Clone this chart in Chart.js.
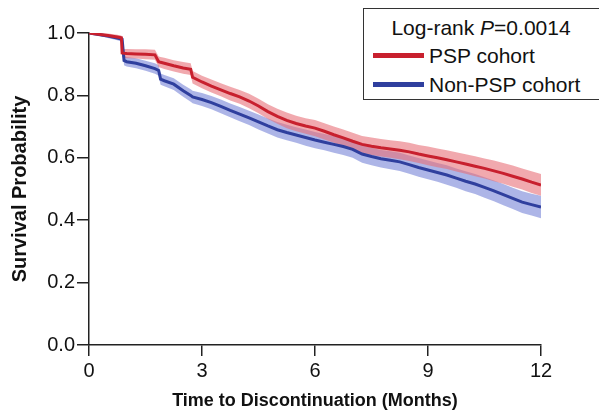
<!DOCTYPE html>
<html>
<head>
<meta charset="utf-8">
<script src="https://cdn.jsdelivr.net/npm/chart.js@4.4.1/dist/chart.umd.min.js"></script>
<style>
  html, body { margin: 0; padding: 0; background: #fff; overflow: hidden; }
  #wrap { position: relative; width: 599px; height: 417px; }
  canvas { position: absolute; left: 0; top: 0; }
  #legend { position: absolute; left: 363px; top: 8px; width: 240px; height: 92px; border: 1.5px solid #333; background: #fff;
            font-family: "Liberation Sans", Arial, sans-serif; font-size: 21px; color: #111; box-sizing: border-box; }
  #legend .title { position: absolute; left: 0; width: 234px; top: 7px; text-align: center; white-space: nowrap; }
  #legend .row { position: absolute; left: 9px; white-space: nowrap; }
  #legend .sw { display: inline-block; width: 51px; height: 5px; vertical-align: middle; margin-right: 5px; position: relative; top: -2px; }
</style>
</head>
<body>
<div id="wrap">
  <canvas id="c" width="599" height="417"></canvas>
  <div id="legend">
    <div class="title">Log-rank <i>P</i>=0.0014</div>
    <div class="row" style="top:35px"><span class="sw" style="background:#c8202e"></span>PSP cohort</div>
    <div class="row" style="top:64px"><span class="sw" style="background:#2f3f9e"></span>Non-PSP cohort</div>
  </div>
</div>
<script>
// Time (months)
const times = [0,0.25,0.5,0.75,0.86,0.88,0.93,1.0,1.25,1.5,1.75,1.85,1.9,2.0,2.25,2.5,2.7,2.75,3.0,3.25,3.5,3.75,4.0,4.25,4.5,4.75,5.0,5.25,5.5,5.75,6.0,6.25,6.5,6.75,7.0,7.25,7.5,7.75,8.0,8.25,8.5,8.75,9.0,9.25,9.5,9.75,10.0,10.25,10.5,10.75,11.0,11.25,11.5,11.75,12.0];
// PSP cohort survival estimate
const pspSurv = [1.000,0.996,0.992,0.987,0.985,0.936,0.935,0.934,0.933,0.932,0.930,0.908,0.906,0.903,0.895,0.888,0.884,0.858,0.843,0.830,0.818,0.806,0.795,0.782,0.766,0.748,0.733,0.720,0.710,0.702,0.695,0.685,0.674,0.664,0.653,0.643,0.637,0.632,0.628,0.624,0.619,0.612,0.606,0.600,0.594,0.587,0.580,0.573,0.566,0.558,0.550,0.541,0.532,0.522,0.513];
// Non-PSP cohort survival estimate
const nonPspSurv = [1.000,0.995,0.990,0.984,0.981,0.980,0.912,0.908,0.903,0.895,0.886,0.880,0.852,0.847,0.836,0.815,0.800,0.795,0.787,0.777,0.765,0.752,0.740,0.728,0.715,0.702,0.690,0.681,0.673,0.665,0.657,0.650,0.643,0.636,0.627,0.612,0.604,0.597,0.592,0.587,0.578,0.569,0.561,0.553,0.545,0.535,0.525,0.516,0.505,0.494,0.482,0.470,0.458,0.450,0.442];
// 95% CI half-widths
const pspHalfCI = [0.000,0.004,0.006,0.007,0.007,0.014,0.014,0.015,0.015,0.016,0.016,0.017,0.017,0.018,0.018,0.019,0.019,0.020,0.020,0.021,0.021,0.022,0.022,0.023,0.023,0.024,0.024,0.025,0.025,0.025,0.026,0.026,0.026,0.027,0.027,0.027,0.028,0.028,0.028,0.029,0.029,0.029,0.030,0.030,0.030,0.031,0.031,0.032,0.032,0.033,0.033,0.034,0.034,0.035,0.035];
const nonPspHalfCI = [0.000,0.004,0.006,0.007,0.008,0.008,0.015,0.015,0.016,0.016,0.017,0.017,0.018,0.018,0.019,0.019,0.020,0.020,0.021,0.021,0.022,0.022,0.023,0.023,0.024,0.024,0.025,0.025,0.025,0.026,0.026,0.026,0.027,0.027,0.027,0.028,0.028,0.028,0.029,0.029,0.029,0.030,0.030,0.030,0.031,0.031,0.032,0.032,0.033,0.033,0.034,0.034,0.035,0.035,0.036];
const xTicks = [0,3,6,9,12];
const yTicks = [0.0,0.2,0.4,0.6,0.8,1.0];

const pts = (arr) => times.map((t, i) => ({x: t, y: arr[i]}));
const band = (arr, hw, sign) => times.map((t, i) => ({x: t, y: arr[i] + sign * hw[i]}));

const FONT = "'Liberation Sans', Arial, Helvetica, sans-serif";

const base = { pointRadius: 0, tension: 0, stepped: false };
new Chart(document.getElementById('c'), {
  type: 'line',
  data: {
    datasets: [
      Object.assign({ label: 'PSP cohort', data: pts(pspSurv), borderColor: '#c8202e', borderWidth: 3, fill: false }, base),
      Object.assign({ label: 'Non-PSP cohort', data: pts(nonPspSurv), borderColor: '#2f3f9e', borderWidth: 3, fill: false }, base),
      Object.assign({ label: 'psp upper', data: band(pspSurv, pspHalfCI, 1), borderWidth: 0, borderColor: 'rgba(0,0,0,0)', fill: false }, base),
      Object.assign({ label: 'psp lower', data: band(pspSurv, pspHalfCI, -1), borderWidth: 0, borderColor: 'rgba(0,0,0,0)', backgroundColor: 'rgba(232,112,120,0.6)', fill: '-1' }, base),
      Object.assign({ label: 'non upper', data: band(nonPspSurv, nonPspHalfCI, 1), borderWidth: 0, borderColor: 'rgba(0,0,0,0)', fill: false }, base),
      Object.assign({ label: 'non lower', data: band(nonPspSurv, nonPspHalfCI, -1), borderWidth: 0, borderColor: 'rgba(0,0,0,0)', backgroundColor: 'rgba(118,132,215,0.6)', fill: '-1' }, base)
    ]
  },
  options: {
    responsive: false,
    animation: false,
    devicePixelRatio: 1,
    layout: { padding: { left: 0, right: 58, top: 33, bottom: 0 } },
    plugins: { legend: { display: false }, tooltip: { enabled: false } },
    scales: {
      x: {
        type: 'linear', min: 0, max: 12,
        afterBuildTicks: (s) => { s.ticks = xTicks.map(v => ({ value: v })); },
        afterFit: (s) => { s.height = 72; },
        ticks: { color: '#111', font: { family: FONT, size: 20 }, padding: 3, maxRotation: 0, autoSkip: false },
        grid: { drawOnChartArea: false, drawTicks: true, tickLength: 11, color: '#222', lineWidth: 1.5 },
        border: { display: true, color: '#222', width: 1.5 },
        title: { display: true, text: 'Time to Discontinuation (Months)', color: '#111', font: { family: FONT, size: 18, weight: 'bold' }, padding: { top: 2, bottom: 5 } }
      },
      y: {
        type: 'linear', min: 0, max: 1,
        afterBuildTicks: (s) => { s.ticks = yTicks.map(v => ({ value: v })); },
        afterFit: (s) => { s.width = 89; },
        ticks: { color: '#111', font: { family: FONT, size: 20 }, padding: 2, callback: (v) => Number(v).toFixed(1) },
        grid: { drawOnChartArea: false, drawTicks: true, tickLength: 12, color: '#222', lineWidth: 1.5 },
        border: { display: true, color: '#222', width: 1.5 },
        title: { display: true, text: 'Survival Probability', color: '#111', font: { family: FONT, size: 20, weight: 'bold' }, padding: { top: 8, bottom: 0 } }
      }
    }
  }
});
</script>
</body>
</html>
